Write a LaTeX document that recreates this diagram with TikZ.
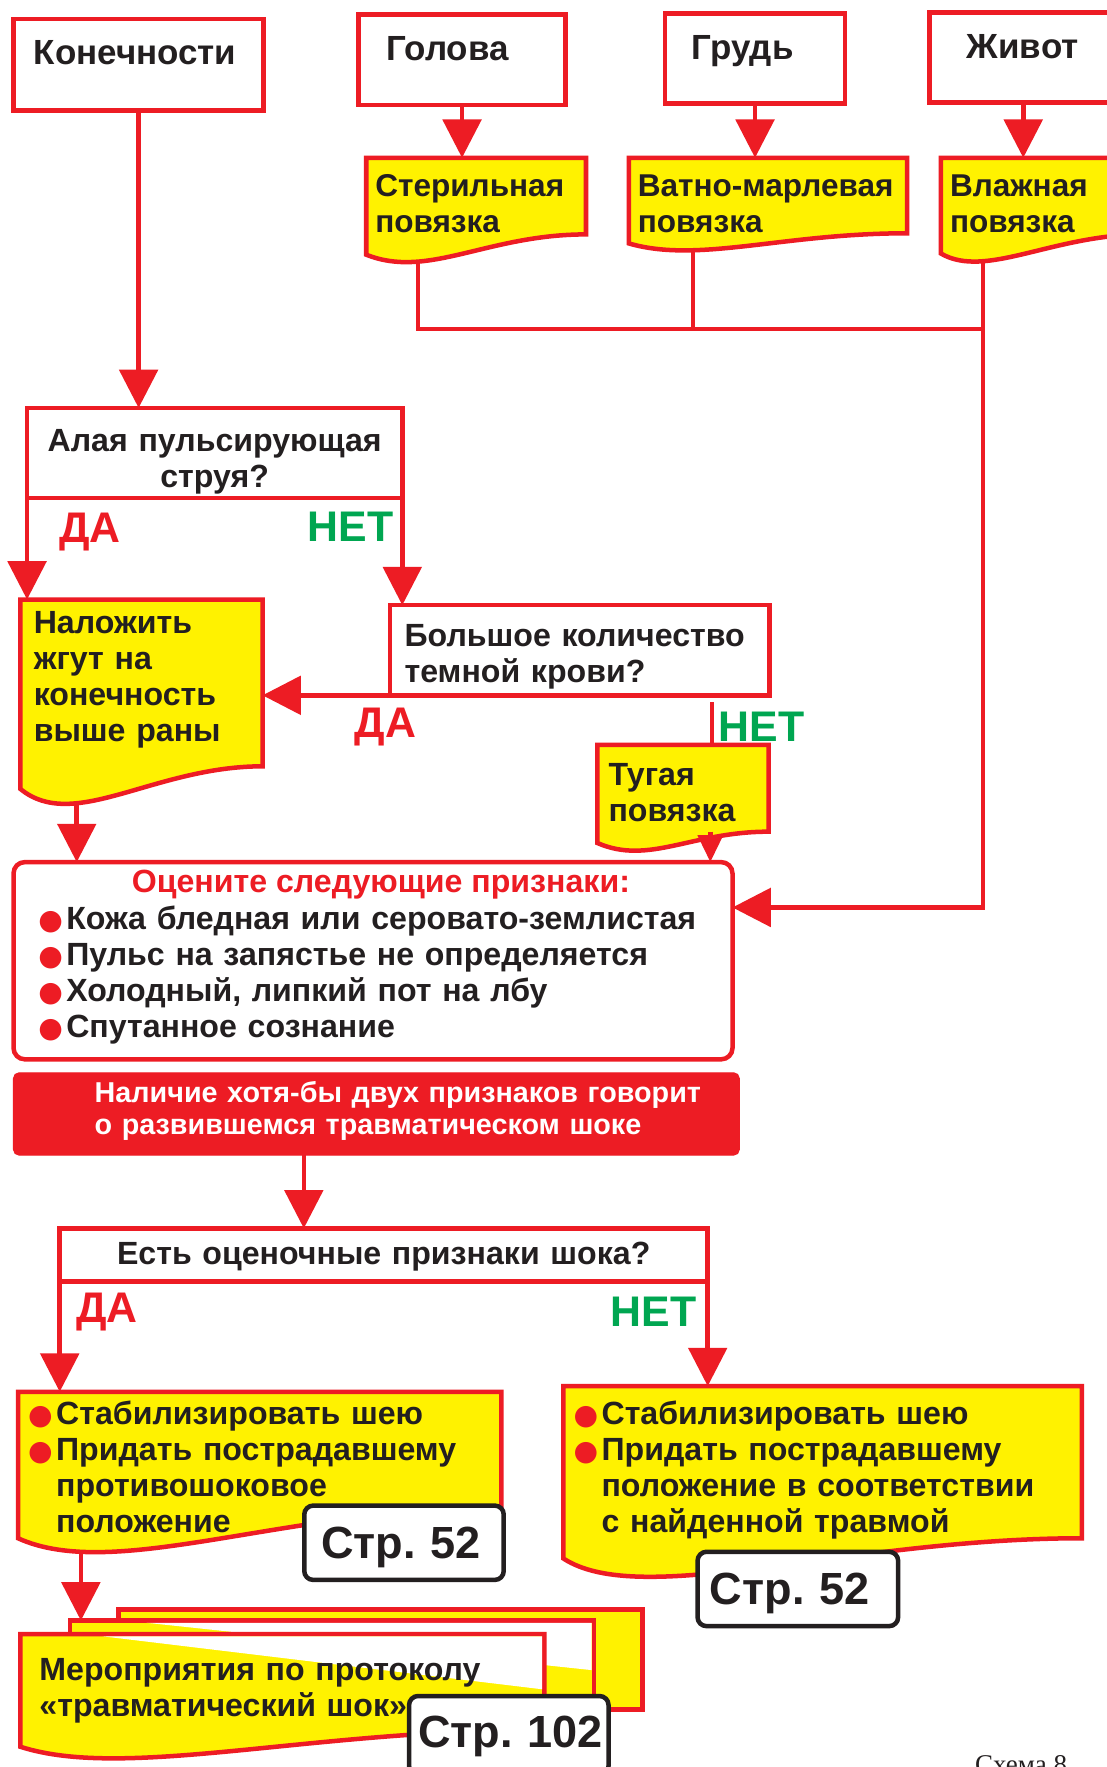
\documentclass[tikz,border=0pt]{standalone}
\usepackage{fontspec}
\setmainfont{Liberation Sans}
\newfontfamily\dotfamily{DejaVu Sans}
\newfontfamily\capfamily{Liberation Serif}
\usetikzlibrary{arrows.meta,calc}

\definecolor{cRed}{RGB}{237,28,36}
\definecolor{cYellow}{RGB}{255,242,0}
\definecolor{cGreen}{RGB}{0,166,81}
\definecolor{cInk}{RGB}{35,31,32}

\newcommand{\fLabel}{\bfseries\fontsize{31}{34}\selectfont}
\newcommand{\fTag}{\bfseries\fontsize{28}{32}\selectfont}
\newcommand{\fBody}{\bfseries\fontsize{28.5}{32}\selectfont}
\newcommand{\fNote}{\bfseries\fontsize{25.5}{29}\selectfont}
\newcommand{\fAnswer}{\bfseries\fontsize{38}{40}\selectfont}
\newcommand{\fPage}{\bfseries\fontsize{40}{44}\selectfont}
\newcommand{\fCaption}{\capfamily\fontsize{24}{28}\selectfont}
\newcommand{\bul}{{\dotfamily\fontsize{25}{32}\selectfont\textcolor{cRed}{●}}\hspace{3pt}}
\newcommand{\nobul}{\phantom{\bul}}

\pgfdeclarelayer{links}
\pgfdeclarelayer{shapes}
\pgfsetlayers{links,shapes,main}

% yellow sheet with a wavy lower edge behind a node
\newcommand{\docshape}[4]{%
  \begin{pgfonlayer}{shapes}
    \filldraw[docfill] (#1.north west) -- (#1.north east) -- (#1.south east)
      .. controls ($(#1.south east)!.45!(#1.south west)$) and ($(#1.south east)!#4!(#1.south west)+(0,#3)$)
      .. ($(#1.south west)+(0,#2)$) -- cycle;
  \end{pgfonlayer}}

\tikzset{
  box/.style={rectangle, draw=cRed, line width=4pt, fill=white, anchor=north west,
    inner ysep=0pt, outer sep=0pt, align=left, text=cInk, font=\fBody,
    execute at begin node={\exhyphenpenalty=10000 \hyphenpenalty=10000}},
  doc/.style={rectangle, anchor=north west, inner ysep=0pt, outer sep=0pt,
    align=left, text=cInk, font=\fBody,
    execute at begin node={\exhyphenpenalty=10000 \hyphenpenalty=10000}},
  docfill/.style={draw=cRed, line width=4pt, fill=cYellow},
  pagebox/.style={rectangle, draw=cInk, line width=4pt, fill=white, rounded corners=8pt,
    anchor=north west, inner ysep=0pt, outer sep=0pt, align=left, text=cInk, font=\fPage},
  link/.style={draw=cRed, line width=4pt},
  arr/.style={link, -{Triangle[width=34pt,length=34pt]}},
  smallarr/.style={link, -{Triangle[width=22pt,length=24pt]}},
  yes/.style={text=cRed, font=\fAnswer, inner sep=0pt},
  no/.style={text=cGreen, font=\fAnswer, inner sep=0pt},
}

\begin{document}
\begin{tikzpicture}[x=1pt,y=-1pt]
\useasboundingbox (0,0) rectangle (982,1568);
\begin{pgfonlayer}{links}
  \fill[white] (0,0) rectangle (982,1568);
\end{pgfonlayer}

% body parts
\node[box, font=\fLabel, inner xsep=18pt, text width=186pt, text height=40pt, text depth=41pt] (limbs) at (12,17) {Конечности};
\node[box, font=\fLabel, inner xsep=25pt, text width=134pt, text height=41pt, text depth=39pt] (head) at (318,13) {Голова};
\node[box, font=\fLabel, inner xsep=24pt, text width=112pt, text height=41pt, text depth=39pt] (chest) at (590,12) {Грудь};
\node[box, font=\fLabel, inner xsep=33pt, text width=100pt, text height=41pt, text depth=39pt] (belly) at (825,11) {Живот};

% dressings
\node[doc, font=\fTag, inner xsep=8pt, text width=179pt, text height=34pt, text depth=34pt] (sterile) at (325,140) {Стерильная\\повязка};
\docshape{sterile}{18}{40}{.72}
\node[doc, font=\fTag, inner xsep=8pt, text width=231pt, text height=34pt, text depth=33pt] (gauze) at (558,140) {Ватно-марлевая\\повязка};
\docshape{gauze}{9}{27}{.75}
\node[doc, font=\fTag, inner xsep=8pt, text width=164pt, text height=34pt, text depth=34pt] (wet) at (835,140) {Влажная\\повязка};
\docshape{wet}{17}{40}{.78}

% bleeding
\node[box, align=center, inner xsep=10pt, text width=313pt, text height=39pt, text depth=41pt] (spurt) at (24,362) {Алая пульсирующая\\струя?};
\node[doc, inner xsep=12pt, text width=191pt, text height=30pt, text depth=118pt] (tourniquet) at (18,532) {Наложить\\жгут на\\конечность\\выше раны};
\docshape{tourniquet}{20}{59}{.78}
\node[box, inner xsep=13pt, text width=311pt, text height=37pt, text depth=43pt] (darkblood) at (346,537) {Большое количество\\темной крови?};
\node[doc, inner xsep=10pt, text width=132pt, text height=36pt, text depth=41pt] (tight) at (530,661) {Тугая\\повязка};
\docshape{tight}{10}{30}{.7}

% signs of shock
\node[box, rounded corners=10pt, inner xsep=22pt, text width=594pt, text height=60pt, text depth=115pt] (signs) at (12,765)
  {\bul Кожа бледная или серовато-землистая\\
   \bul Пульс на запястье не определяется\\
   \bul Холодный, липкий пот на лбу\\
   \bul Спутанное сознание};
\node[font=\fBody, text=cRed, anchor=base, inner sep=0pt] (signshead) at ($(signs.north west)+(326,27)$) {Оцените следующие признаки:};
\node[box, fill=cRed, line width=1pt, rounded corners=5pt, text=white, font=\fNote, inner xsep=27pt, text width=590pt, text height=26pt, text depth=47pt] (shock) at (12,952)
  {\hspace*{45pt}Наличие хотя-бы двух признаков говорит\\
   \hspace*{45pt}о развившемся травматическом шоке};
\node[box, align=center, inner xsep=10pt, text width=555pt, text height=32pt, text depth=15pt] (check) at (53,1090) {Есть оценочные признаки шока?};

% actions
\node[doc, inner xsep=9pt, text width=411pt, text height=29pt, text depth=74pt] (stabyes) at (16,1235)
  {\bul Стабилизировать шею\\
   \bul Придать пострадавшему\\
   \nobul противошоковое\\
   \nobul положение};
\docshape{stabyes}{27}{66}{.8}
\node[pagebox, inner xsep=15pt, text width=147pt, text height=47pt, text depth=19pt] (page1) at (270,1336) {Стр.~52};
\node[doc, inner xsep=9pt, text width=442pt, text height=34pt, text depth=101pt] (stabno) at (500,1230)
  {\bul Стабилизировать шею\\
   \bul Придать пострадавшему\\
   \nobul положение в соответствии\\
   \nobul с найденной травмой};
\docshape{stabno}{18}{63}{.85}
\node[pagebox, inner xsep=11pt, text width=156pt, text height=47pt, text depth=19pt] (page2) at (619,1377) {Стр.~52};

% protocol sheets
\node[doc, inner sep=0pt, minimum width=465pt, minimum height=89pt] (layer3) at (105,1428) {};
\node[doc, inner sep=0pt, minimum width=465pt, minimum height=72pt] (layer2) at (62,1438) {};
\begin{pgfonlayer}{shapes}
  \filldraw[docfill] (layer3.north west) rectangle (layer3.south east);
  \filldraw[docfill] (layer2.north west) rectangle (layer2.south east);
  \fill[white] ($(layer2.north west)+(68,2)$) -- ($(layer2.north east)+(-2,2)$) -- ($(layer2.north east)+(-2,44)$) -- cycle;
\end{pgfonlayer}
\node[doc, inner xsep=17pt, text width=431pt, text height=41pt, text depth=44pt] (protocol) at (18,1450)
  {Мероприятия по протоколу\\«травматический шок»};
\docshape{protocol}{15}{45}{.8}
\begin{pgfonlayer}{shapes}
  \fill[white] ($(protocol.north west)+(73,2)$) -- ($(protocol.north east)+(-2,2)$) -- ($(protocol.north east)+(-2,49)$) -- cycle;
\end{pgfonlayer}
\node[pagebox, inner xsep=8pt, text width=161pt, text height=46pt, text depth=24pt] (page3) at (363,1505) {Стр.~102};

% answers
\node[yes] (yes1) at (80,472) {ДА};
\node[no] (no1) at (311,467) {НЕТ};
\node[yes] (yes2) at (342,645) {ДА};
\node[no] (no2) at (676,645) {НЕТ};
\node[yes] (yes3) at (95,1164) {ДА};
\node[no] (no3) at (580,1164) {НЕТ};

\node[font=\fCaption, text=cInk, anchor=base west, inner sep=0pt] (caption) at (865,1574) {Схема 8};

% connectors
\coordinate (sterdrop) at ($(sterile.south west)!0.236!(sterile.south east)$);
\coordinate (gauzedrop) at ($(gauze.south west)!0.23!(gauze.south east)$);
\coordinate (wetdrop) at ($(wet.south west)!0.206!(wet.south east)$);
\coordinate (merge) at ($(wetdrop)+(0,84)$);
\coordinate (signsin) at ($(signs.north east)!0.23!(signs.south east)$);
\coordinate (tqdrop) at ($(tourniquet.south west)!0.233!(tourniquet.south east)$);
\coordinate (tighttop) at ($(tight.north west)!0.67!(tight.north east)$);
\coordinate (tightdrop) at ($(tight.south west)!0.66!(tight.south east)$);
\coordinate (shockdrop) at ($(shock.south west)!0.4!(shock.south east)$);
\coordinate (stabdrop) at ($(stabyes.south west)!0.13!(stabyes.south east)$);
\begin{pgfonlayer}{links}
  \draw[arr] (limbs.south) -- (limbs.south |- spurt.north);
  \draw[arr] (head.south) -- (head.south |- sterile.north);
  \draw[arr] (chest.south) -- (chest.south |- gauze.north);
  \draw[arr] (belly.south) -- (belly.south |- wet.north);
  \draw[link] (sterdrop) |- (merge);
  \draw[link] (gauzedrop) -- (gauzedrop |- merge);
  \draw[arr] (wetdrop) |- (signsin);
  \draw[arr] (spurt.south west) -- (spurt.south west |- tourniquet.north);
  \draw[arr] (spurt.south east) -- (spurt.south east |- darkblood.north);
  \draw[arr] (darkblood.south west) -- (darkblood.south west -| tourniquet.east);
  \draw[link, shorten <=6pt] (tighttop |- darkblood.south) -- (tighttop);
  \draw[arr] (tqdrop) -- (tqdrop |- signs.north);
  \draw[arr] (shockdrop) -- (shockdrop |- check.north);
  \draw[arr] (check.south west) -- (check.south west |- stabyes.north);
  \draw[arr] (check.south east) -- (check.south east |- stabno.north);
  \draw[arr] (stabdrop) -- (stabdrop |- layer2.north);
\end{pgfonlayer}
\draw[smallarr] (tightdrop) -- (tightdrop |- signs.north);
\end{tikzpicture}
\end{document}
